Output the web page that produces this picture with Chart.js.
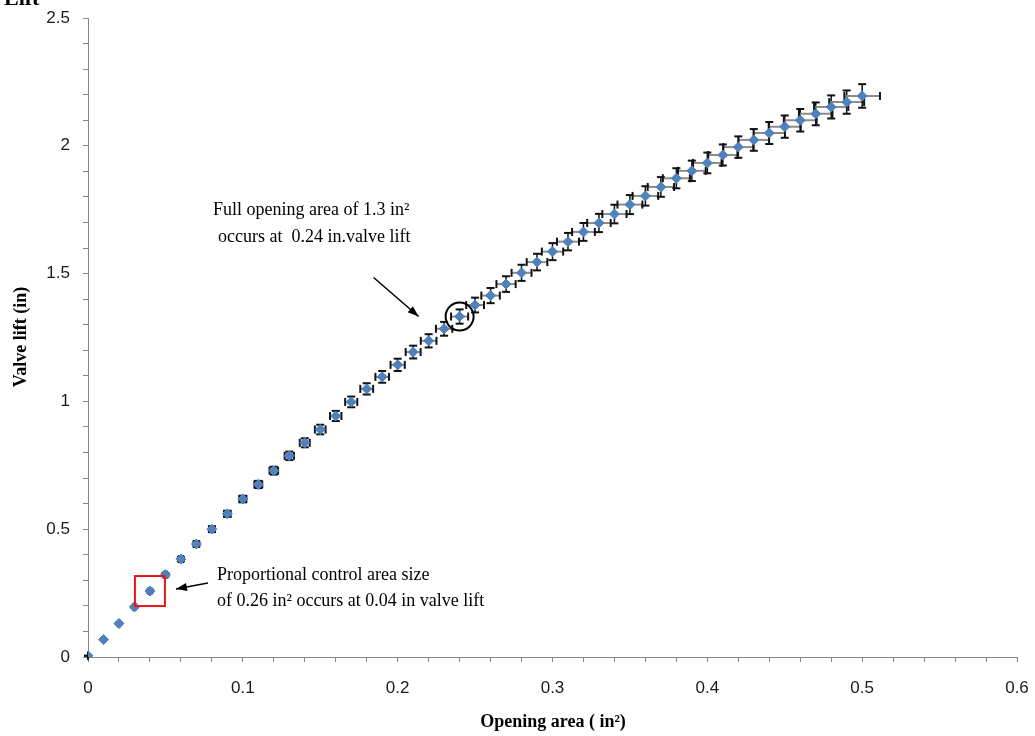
<!DOCTYPE html>
<html>
<head>
<meta charset="utf-8">
<script src="https://cdn.jsdelivr.net/npm/chart.js@4"></script>
<style>
  body { margin: 0; background: #fff; }
  canvas { display: block; }
</style>
</head>
<body>
<canvas id="chart" width="1035" height="736"></canvas>
<script>
// Opening area (in^2) vs valve lift (in).
const openingArea = [
  0, 0.01, 0.02, 0.03, 0.04, 0.05, 0.06, 0.07, 0.08, 0.09,
  0.10, 0.11, 0.12, 0.13, 0.14, 0.15, 0.16, 0.17, 0.18, 0.19,
  0.20, 0.21, 0.22, 0.23, 0.24, 0.25, 0.26, 0.27, 0.28, 0.29,
  0.30, 0.31, 0.32, 0.33, 0.34, 0.35, 0.36, 0.37, 0.38, 0.39,
  0.40, 0.41, 0.42, 0.43, 0.44, 0.45, 0.46, 0.47, 0.48, 0.49,
  0.50
];
const valveLift = [
  0.005, 0.068, 0.131, 0.196, 0.258, 0.322, 0.383, 0.442, 0.500, 0.560,
  0.618, 0.675, 0.729, 0.787, 0.838, 0.890, 0.943, 0.998, 1.049, 1.096,
  1.143, 1.193, 1.237, 1.284, 1.332, 1.377, 1.414, 1.459, 1.503, 1.545,
  1.586, 1.625, 1.663, 1.698, 1.733, 1.770, 1.804, 1.839, 1.873, 1.902,
  1.933, 1.964, 1.995, 2.023, 2.050, 2.075, 2.100, 2.125, 2.152, 2.171,
  2.195
];
const xTickLabels = ["0", "0.1", "0.2", "0.3", "0.4", "0.5", "0.6"];
const yTickLabels = ["0", "0.5", "1", "1.5", "2", "2.5"];

// Excel style percentage error bars
const X_ERR_PCT = 0.023;
const Y_ERR_PCT = 0.021;

// the two highlighted points in the annotations
const FULL_OPEN_IDX = 24;
const PROP_CTRL_IDX = 4;

const AXIS_GREY = '#868686';

function isMultiple(v, step) {
  const r = v / step;
  return Math.abs(r - Math.round(r)) < 1e-6;
}

function line(ctx, x0, y0, x1, y1) {
  ctx.beginPath();
  ctx.moveTo(x0, y0);
  ctx.lineTo(x1, y1);
  ctx.stroke();
}

function arrow(ctx, x0, y0, x1, y1) {
  ctx.strokeStyle = '#000';
  ctx.fillStyle = '#000';
  ctx.lineWidth = 1.5;
  line(ctx, x0, y0, x1, y1);
  const ang = Math.atan2(y1 - y0, x1 - x0);
  const len = 11, wid = 4;
  ctx.beginPath();
  ctx.moveTo(x1, y1);
  ctx.lineTo(x1 - len * Math.cos(ang) + wid * Math.sin(ang), y1 - len * Math.sin(ang) - wid * Math.cos(ang));
  ctx.lineTo(x1 - len * Math.cos(ang) - wid * Math.sin(ang), y1 - len * Math.sin(ang) + wid * Math.cos(ang));
  ctx.closePath();
  ctx.fill();
}

const errorBars = {
  id: 'errorBars',
  beforeDatasetsDraw(chart) {
    const { ctx, scales: { x, y } } = chart;
    const cap = 4;
    ctx.save();
    openingArea.forEach((area, i) => {
      const lift = valveLift[i];
      const px = x.getPixelForValue(area);
      const py = y.getPixelForValue(lift);
      const xl = x.getPixelForValue(area * (1 - X_ERR_PCT));
      const xr = x.getPixelForValue(area * (1 + X_ERR_PCT));
      const yb = y.getPixelForValue(lift * (1 - Y_ERR_PCT));
      const yt = y.getPixelForValue(lift * (1 + Y_ERR_PCT));
      ctx.strokeStyle = '#8c8c8c';
      ctx.lineWidth = 2;
      line(ctx, xl, py, xr, py);
      ctx.strokeStyle = '#111';
      ctx.lineWidth = 1.5;
      line(ctx, px, yb, px, yt);
      ctx.lineWidth = 2;
      line(ctx, xl, py - cap, xl, py + cap);
      line(ctx, xr, py - cap, xr, py + cap);
      line(ctx, px - cap, yb, px + cap, yb);
      line(ctx, px - cap, yt, px + cap, yt);
    });
    ctx.restore();
  }
};

const annotations = {
  id: 'annotations',
  afterDraw(chart) {
    const { ctx, scales: { x, y } } = chart;
    ctx.save();

    // cropped title at the very top
    ctx.fillStyle = '#000';
    ctx.font = 'bold 22px "Liberation Serif"';
    ctx.textBaseline = 'alphabetic';
    ctx.textAlign = 'left';
    ctx.fillText('Lift', 4, 5);

    // axis titles
    ctx.font = 'bold 18px "Liberation Serif"';
    ctx.textAlign = 'center';
    ctx.textBaseline = 'middle';
    ctx.fillText('Opening area ( in\u00b2)', 553, 722);
    ctx.save();
    ctx.translate(21, 337);
    ctx.rotate(-Math.PI / 2);
    ctx.fillText('Valve lift (in)', 0, 0);
    ctx.restore();

    // full opening point: circle + arrow + text
    const fx = x.getPixelForValue(openingArea[FULL_OPEN_IDX]);
    const fy = y.getPixelForValue(valveLift[FULL_OPEN_IDX]);
    ctx.strokeStyle = '#000';
    ctx.lineWidth = 2;
    ctx.beginPath();
    ctx.arc(fx, fy, 14, 0, Math.PI * 2);
    ctx.stroke();
    arrow(ctx, fx - 86, fy - 39, fx - 41, fy);

    ctx.font = '18px "Liberation Serif"';
    ctx.textAlign = 'left';
    ctx.fillStyle = '#000';
    ctx.fillText('Full opening area of 1.3 in\u00b2', 213, 210);
    ctx.fillText('occurs at  0.24 in.valve lift', 218, 237);

    // proportional control point: red square + arrow + text
    const cx = x.getPixelForValue(openingArea[PROP_CTRL_IDX]);
    const cy = y.getPixelForValue(valveLift[PROP_CTRL_IDX]);
    ctx.strokeStyle = '#e8141b';
    ctx.lineWidth = 2;
    ctx.strokeRect(cx - 15, cy - 15, 30, 30);
    arrow(ctx, cx + 58, cy - 8, cx + 26, cy - 2);

    ctx.fillStyle = '#000';
    ctx.fillText('Proportional control area size', 217, 575);
    ctx.fillText('of 0.26 in\u00b2 occurs at 0.04 in valve lift', 217, 601);

    ctx.restore();
  }
};

new Chart(document.getElementById('chart'), {
  type: 'scatter',
  data: {
    datasets: [{
      label: 'Valve lift',
      data: openingArea.map((a, i) => ({ x: a, y: valveLift[i] })),
      pointStyle: 'rectRot',
      pointRadius: 5,
      pointBackgroundColor: '#4f81bd',
      pointBorderColor: '#4f81bd',
      pointBorderWidth: 1,
      showLine: false
    }]
  },
  options: {
    responsive: false,
    animation: false,
    layout: { padding: { top: 18, right: 18, left: 0, bottom: 0 } },
    plugins: {
      legend: { display: false },
      tooltip: { enabled: false }
    },
    scales: {
      x: {
        type: 'linear',
        min: 0,
        max: 0.6,
        // fixed box so the plot area lands where the original one is
        afterFit: (scale) => {
          scale.height = 79;
          scale.paddingLeft = 0;
          scale.paddingRight = 0;
        },
        grid: { drawOnChartArea: false, tickLength: 5, color: AXIS_GREY },
        border: { color: AXIS_GREY, width: 1 },
        ticks: {
          stepSize: 0.02,
          autoSkip: false,
          maxRotation: 0,
          padding: 16,
          color: '#1a1a1a',
          font: { family: '"Liberation Sans"', size: 17 },
          callback: (v) => isMultiple(v, 0.1) ? xTickLabels[Math.round(v * 10)] : ''
        }
      },
      y: {
        type: 'linear',
        min: 0,
        max: 2.5,
        afterFit: (scale) => {
          scale.width = 88;
          scale.paddingTop = 0;
          scale.paddingBottom = 0;
        },
        grid: { drawOnChartArea: false, tickLength: 5, color: AXIS_GREY },
        border: { color: AXIS_GREY, width: 1 },
        ticks: {
          stepSize: 0.1,
          autoSkip: false,
          padding: 13,
          color: '#1a1a1a',
          font: { family: '"Liberation Sans"', size: 17 },
          callback: (v) => isMultiple(v, 0.5) ? yTickLabels[Math.round(v * 2)] : ''
        }
      }
    }
  },
  plugins: [errorBars, annotations]
});
</script>
</body>
</html>
